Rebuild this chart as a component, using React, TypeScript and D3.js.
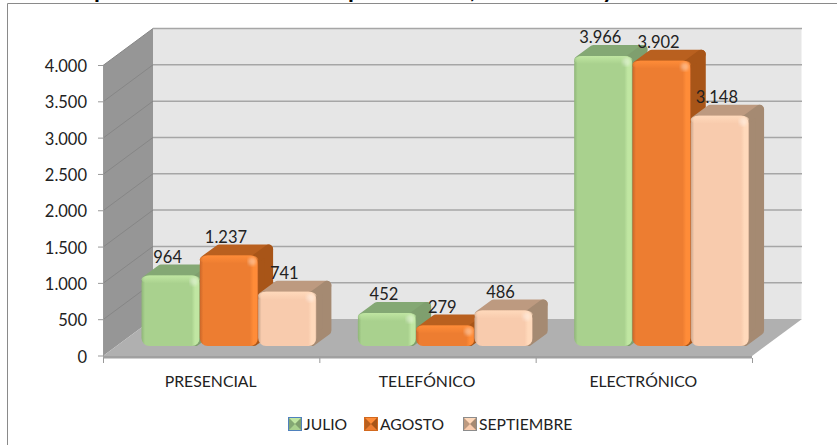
import React from "react";
import * as d3 from "d3";

const categories = ["PRESENCIAL", "TELEFÓNICO", "ELECTRÓNICO"];
const seriesNames = ["JULIO", "AGOSTO", "SEPTIEMBRE"];
const julio = [964, 452, 3966];
const agosto = [1237, 279, 3902];
const septiembre = [741, 486, 3148];
const yTicks = [0, 500, 1000, 1500, 2000, 2500, 3000, 3500, 4000];
const titleFragments = [
  { t: "p", x: 94 },
  { t: "p", x: 348 },
  { t: ",", x: 470 },
  { t: "y", x: 602 },
];

const palette = [
  { id: "g", front: "#a9d18e", light: "#c0e6a2", edge: "#8fb578", top: "#84a874", side: "#7f9f6e" },
  { id: "o", front: "#ed7d31", light: "#ff8c38", edge: "#c9662a", top: "#b9601f", side: "#a85518" },
  { id: "p", front: "#f8cbad", light: "#ffd9bb", edge: "#c9a58c", top: "#bd9a80", side: "#a58a72" },
];
const allSeries = [julio, agosto, septiembre];

const fmt = (v: number) => (v >= 1000 ? `${Math.floor(v / 1000)}.${String(v % 1000).padStart(3, "0")}` : `${v}`);

// plot frame
const x0 = 103, x1 = 752, yBottom = 356, yTop = 65.5;
const depthX = 50, depthY = -37;
const barGapX = 13.5;
const barW = 58.3, barDX = 15, barDY = -11, groupInset = 25;

const xBand = d3.scaleBand<string>().domain(categories).range([x0, x1]);
const y = d3.scaleLinear().domain([0, 4000]).range([yBottom, yTop]);
const yBar = d3.scaleLinear().domain([0, 4000]).range([346, 53.5]);
const pts = (p: number[][]) => p.map((d) => d.join(",")).join(" ");
const FONT = "Lato, 'Open Sans', sans-serif";
const TXT = "#222";

function Bar({ x, top, base, c }: { x: number; top: number; base: number; c: (typeof palette)[0] }) {
  const r = Math.min(8, (base - top) / 3);
  const inset = 4.5;
  const topPts = [
    [x + inset, top + inset],
    [x + barW - inset, top + inset],
    [x + barW + barDX - inset, top + barDY + inset],
    [x + barDX + inset, top + barDY + inset],
  ];
  const sidePts = [
    [x + barW - inset, top + inset],
    [x + barW + barDX - inset, top + barDY + inset],
    [x + barW + barDX - inset, base + barDY - inset],
    [x + barW - inset, base - inset],
  ];
  return (
    <g>
      <polygon points={pts(topPts)} fill={c.top} stroke={c.top} strokeWidth={9} strokeLinejoin="round" />
      <polygon points={pts(sidePts)} fill={c.side} stroke={c.side} strokeWidth={9} strokeLinejoin="round" />
      <rect x={x} y={top} width={barW} height={base - top} rx={r} fill={`url(#h-${c.id})`} />
      <rect x={x} y={top} width={barW} height={Math.min(8, (base - top) / 2)} rx={r} fill={`url(#v-${c.id})`} />
      <circle cx={x + barW - 6} cy={top + 6} r={4} fill="#fff" opacity={0.35} filter="url(#soft)" />
    </g>
  );
}

export default function App() {
  return (
    <svg width={837} height={445} style={{ position: "absolute", left: 0, top: 0, background: "#fff" }}>
      <defs>
        <filter id="soft"><feGaussianBlur stdDeviation={1.5} /></filter>
        {palette.map((c) => (
          <React.Fragment key={c.id}>
            <linearGradient id={`h-${c.id}`} x1="0" x2="1" y1="0" y2="0">
              <stop offset="0" stopColor={c.edge} />
              <stop offset="0.06" stopColor={c.front} />
              <stop offset="0.86" stopColor={c.front} />
              <stop offset="0.92" stopColor={c.light} />
              <stop offset="0.98" stopColor={c.light} />
              <stop offset="1" stopColor={c.edge} />
            </linearGradient>
            <linearGradient id={`v-${c.id}`} x1="0" x2="0" y1="0" y2="1">
              <stop offset="0" stopColor={c.light} />
              <stop offset="1" stopColor={c.light} stopOpacity={0} />
            </linearGradient>
          </React.Fragment>
        ))}
      </defs>

      {/* chart border */}
      <path d="M7.5 445 V3.5 H837" fill="none" stroke="#8a8a8a" strokeWidth={1} />

      {/* cropped title */}
      {titleFragments.map((f, i) => (
        <text key={i} x={f.x} y={-2.5} fontFamily={FONT} fontWeight={700} fontSize={24} fill="#000">{f.t}</text>
      ))}

      {/* walls */}
      <polygon points={pts([[x0 + depthX, yTop + depthY], [x1 + depthX - 0.5, yTop + depthY], [x1 + depthX - 0.5, yBottom + depthY], [x0 + depthX, yBottom + depthY]])} fill="#e6e6e6" />
      <polygon points={pts([[x0, yTop], [x0 + depthX, yTop + depthY], [x0 + depthX, yBottom + depthY], [x0, yBottom]])} fill="#969696" />
      <polygon points={pts([[x0, yBottom], [x0 + depthX, yBottom + depthY], [x1 + depthX, yBottom + depthY], [x1, yBottom]])} fill="#b0b0b0" />
      <rect x={x0} y={yBottom} width={x1 - x0} height={2.5} fill="#a0a0a0" />

      {/* gridlines */}
      {yTicks.map((t) => (
        <g key={t}>
          {t > 0 && <line x1={x0 + depthX} x2={x1 + depthX} y1={y(t) + depthY} y2={y(t) + depthY} stroke="#a6a6a6" strokeWidth={1.5} />}
          {t > 0 && <line x1={x0} x2={x0 + depthX} y1={y(t)} y2={y(t) + depthY} stroke="#868686" strokeWidth={1} />}
          <line x1={x0 - 5} x2={x0} y1={y(t)} y2={y(t)} stroke="#999" />
          <text x={87} y={y(t) + 6.5} textAnchor="end" fontFamily={FONT} fontSize={16.5} fill={TXT}>{fmt(t)}</text>
        </g>
      ))}
      <line x1={x0 + 0.5} x2={x0 + 0.5} y1={yTop} y2={yBottom} stroke="#999" />

      {/* x ticks */}
      {[...categories.map((c) => xBand(c)!), x1].map((t, i) => (
        <line key={i} x1={t + 0.5} x2={t + 0.5} y1={yBottom + 2} y2={yBottom + 7} stroke="#999" />
      ))}

      {/* bars */}
      {categories.map((cat, ci) =>
        allSeries.map((s, si) => {
          const x = xBand(cat)! + barGapX + groupInset + si * barW;
          return <Bar key={`${cat}${si}`} x={x} top={yBar(s[ci])} base={yBar(0)} c={palette[si]} />;
        })
      )}

      {/* data labels */}
      {categories.map((cat, ci) =>
        allSeries.map((s, si) => {
          const x = xBand(cat)! + barGapX + groupInset + si * barW + barW / 2 - 3;
          return (
            <text key={`${cat}${si}l`} x={x} y={yBar(s[ci]) - 12.5} textAnchor="middle" fontFamily={FONT} fontSize={16.5} fill={TXT}>
              {fmt(s[ci])}
            </text>
          );
        })
      )}

      {/* category labels */}
      {categories.map((cat) => (
        <text key={cat} x={xBand(cat)! + xBand.bandwidth() / 2 - 0.5} y={386.5} textAnchor="middle" fontFamily={FONT} fontSize={15.8} fill={TXT}>{cat}</text>
      ))}

      {/* legend */}
      {seriesNames.map((n, i) => {
        const lx = [288, 364, 463][i];
        const c = palette[i];
        const s = 14, ly = 417;
        const border = ["#4f81bd", "#d2691e", "#8c8c8c"][i];
        const m = [lx + s / 2, ly + s / 2];
        return (
          <g key={n}>
            <rect x={lx} y={ly} width={s} height={s} fill={c.front} />
            <polygon points={pts([[lx, ly], [lx + s, ly], m])} fill={c.light} />
            <polygon points={pts([[lx + s, ly], [lx + s, ly + s], m])} fill={c.side} />
            <polygon points={pts([[lx, ly], [lx, ly + s], m])} fill={c.top} />
            <rect x={lx + 0.5} y={ly + 0.5} width={s - 1} height={s - 1} fill="none" stroke={border} />
            <text x={lx + 16} y={429.5} fontFamily={FONT} fontSize={15.7} fill={TXT}>{n}</text>
          </g>
        );
      })}
    </svg>
  );
}
